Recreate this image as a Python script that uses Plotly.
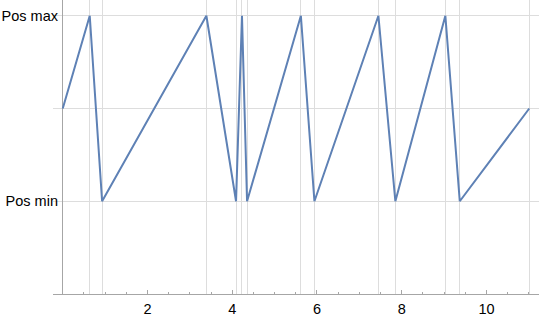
import plotly.graph_objects as go

# Data (time vs position level: 1 = Pos min, 2 = middle, 3 = Pos max)
t_vals = [0.0, 0.637, 0.929, 3.39, 4.09, 4.23, 4.35, 5.62, 5.94, 7.45, 7.85, 9.03, 9.37, 11.01]
pos_vals = [2, 3, 1, 3, 1, 3, 1, 3, 1, 3, 1, 3, 1, 2]

x_tick_vals = [2, 4, 6, 8, 10]
x_tick_text = ["2", "4", "6", "8", "10"]
y_tick_vals = [1, 2, 3]
y_tick_text = ["Pos min", "", "Pos max"]

line_color = "#5E81B5"
grid_color = "#DDDDDD"
axis_color = "#A6A6A6"
font_family = "Liberation Sans, Arial, sans-serif"

x_range = [-0.23, 11.24]
y_range = [0, 3.17]

fig = go.Figure()
fig.add_trace(go.Scatter(
    x=t_vals, y=pos_vals, mode="lines",
    line=dict(color=line_color, width=2), showlegend=False,
    hoverinfo="skip",
))
# invisible trace to activate the overlay axis carrying the event gridlines
fig.add_trace(go.Scatter(
    x=t_vals, y=pos_vals, mode="lines", xaxis="x2",
    line=dict(color="rgba(0,0,0,0)", width=0), showlegend=False,
    hoverinfo="skip",
))

fig.update_layout(
    width=540, height=317,
    margin=dict(l=53, r=1, t=0, b=23),
    paper_bgcolor="white", plot_bgcolor="white",
    font=dict(family=font_family, size=14, color="black"),
    xaxis=dict(
        range=x_range, tickmode="array", tickvals=x_tick_vals, ticktext=x_tick_text,
        showgrid=False, zeroline=True, zerolinecolor=axis_color, zerolinewidth=1,
        showline=True, linecolor=axis_color, linewidth=1,
        ticks="inside", ticklen=4, tickcolor=axis_color, tickwidth=1,
        minor=dict(dtick=0.5, tick0=0, ticks="inside", ticklen=2.5, tickcolor=axis_color, showgrid=False),
        tickfont=dict(size=14.5, color="black"), ticklabelstandoff=2,
        fixedrange=True,
    ),
    xaxis2=dict(
        range=x_range, overlaying="x", matches="x", tickmode="array", tickvals=t_vals[1:],
        showgrid=True, gridcolor=grid_color, gridwidth=1, showticklabels=False,
        ticks="", zeroline=False, showline=False, layer="below traces",
    ),
    yaxis=dict(
        range=y_range, tickmode="array", tickvals=y_tick_vals, ticktext=y_tick_text,
        showgrid=True, gridcolor=grid_color, gridwidth=1, zeroline=False,
        showline=False, ticks="", ticklabelstandoff=-6,
        tickfont=dict(size=14.5, color="black"),
        fixedrange=True,
    ),
)

fig.write_html("out.html")
